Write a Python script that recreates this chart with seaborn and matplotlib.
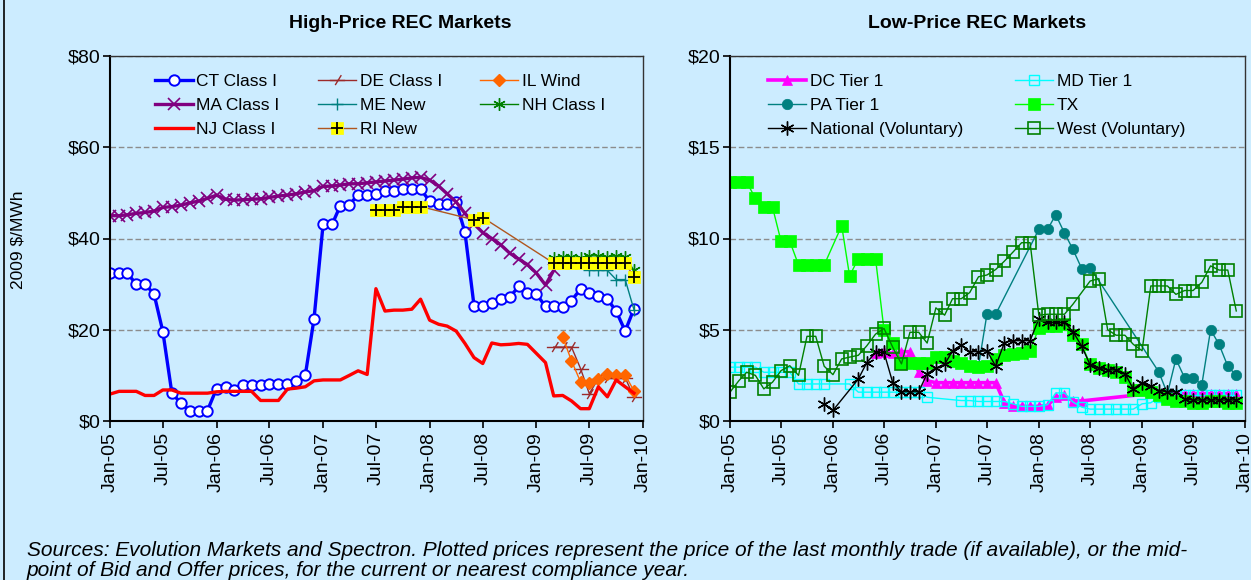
import numpy as np
import pandas as pd
import seaborn as sns
import matplotlib.pyplot as plt
import matplotlib.dates as mdates
from matplotlib.path import Path
from matplotlib.lines import Line2D

nan = np.nan
months = pd.date_range('2005-01-01', periods=60, freq='MS')

# ---- high-price markets, 2009 $/MWh, Jan-05 .. Dec-09
ct_class1 = [32.4, 32.4, 32.4, 30.0, 30.0, 27.8, 19.6, 6.1, 3.9, 2.3, 2.3, 2.3,
             7.1, 7.5, 6.9, 7.9, 7.9, 7.9, 8.2, 8.2, 8.2, 8.8, 10.0, 22.4,
             43.1, 43.1, 47.2, 47.4, 49.6, 49.6, 49.7, 50.5, 50.5, 50.8, 50.8, 50.8,
             48.2, 47.6, 47.6, 47.9, 41.4, 25.3, 25.3, 25.9, 26.7, 27.1, 29.5, 28.1,
             27.8, 25.1, 25.1, 24.9, 26.4, 28.9, 28.1, 27.5, 26.7, 24.1, 19.7, 24.6]
ma_class1 = [45.0, 45.0, 45.2, 45.5, 45.7, 46.0, 46.8, 47.0, 47.3, 47.8, 48.2, 48.8,
             49.5, 48.6, 48.4, 48.5, 48.6, 48.7, 49.0, 49.3, 49.5, 49.8, 50.2, 50.5,
             51.4, 51.5, 51.7, 52.0, 52.0, 52.2, 52.4, 52.6, 52.8, 53.0, 53.3, 53.4,
             52.8, 51.5, 49.8, 48.0, 45.5, 43.2, 41.3, 40.0, 38.6, 36.8, 35.5, 34.3,
             32.4, 29.8, 33.0] + [nan] * 9
nj_class1 = [5.9, 6.5, 6.5, 6.5, 5.6, 5.6, 6.8, 6.8, 6.1, 6.1, 6.1, 6.1,
             6.4, 6.5, 6.5, 6.5, 6.5, 4.5, 4.5, 4.5, 7.0, 7.2, 7.5, 8.8,
             9.0, 9.0, 9.0, 10.0, 11.0, 10.2, 29.0, 24.1, 24.3, 24.3, 24.5, 26.7,
             22.1, 21.2, 20.8, 19.7, 17.0, 13.9, 12.6, 17.1, 16.7, 16.8, 17.0, 16.8,
             14.8, 12.8, 5.5, 5.6, 4.4, 2.7, 2.7, 7.5, 5.3, 9.0, 7.5, 6.1]
de_class1 = [nan] * 50 + [16.2, 16.2, 16.2, 11.5, 6.0, 9.3, 9.5, 9.5, 9.5, 5.2]
il_wind = [nan] * 51 + [18.4, 13.2, 8.6, 8.3, 9.1, 10.2, 10.1, 10.1, 6.6]
me_new = [nan] * 54 + [33.0, 33.0, 33.0, 31.0, 31.0, 24.4]
nh_class1 = [nan] * 50 + [35.8, 36.0, 36.0, 35.8, 36.2, 36.2, 36.0, 36.2, 36.0, 33.0]
ri_new = ([nan] * 30 + [46.3, 46.3, 46.3, 47.0, 47.0, 47.0] + [nan] * 5
          + [44.1, 44.6] + [nan] * 7 + [34.6] * 9 + [31.6])

# ---- low-price markets
dc_tier1 = ([nan] * 17 + [3.7, 3.8, 3.7, 3.8, 3.8, 2.7, 2.2, 2.1, 2.1, 2.1, 2.1, 2.1,
                          2.1, 2.1, 2.1, 1.0, 0.8, 0.8, 0.8, 0.8, 0.85, 1.3, 1.4, 1.1, 1.1]
            + [nan] * 8 + [1.55] + [1.5] * 9)
md_tier1 = [2.95, 2.95, 2.95, 2.95, 2.67, 2.67, 2.67, 2.67, 2.03, 2.03, 2.03, 2.03,
            nan, nan, 2.03, 1.58, 1.58, 1.58, 1.58, 1.58, 1.58, 1.58, 1.58, 1.3,
            nan, nan, nan, 1.12, 1.12, 1.07, 1.07, 1.07, 1.07, 0.94, 0.8, 0.8,
            0.8, 0.9, 1.54, 1.54, 1.04, 0.76, 0.65, 0.65, 0.65, 0.65, 0.65, 0.65,
            0.94, 1.0, 1.3, 1.4, 1.4, 1.4, 1.4, 1.4, 1.4, 1.4, 1.4, 1.4]
pa_tier1 = ([nan] * 29 + [3.0, 5.85, 5.85, nan, nan, nan, nan, 10.5, 10.5, 11.3, 10.3,
                          9.4, 8.35, 8.4] + [nan] * 7
            + [2.7, 1.5, 3.4, 2.36, 2.36, 2.0, 5.0, 4.2, 3.0, 2.5])
tx = [13.1, 13.1, 13.1, 12.2, 11.7, 11.7, 9.85, 9.85, 8.55, 8.55, 8.55, 8.55,
      nan, 10.7, 7.95, 8.9, 8.9, 8.9, 5.0, 4.3, 3.2, 3.2, 3.2, 3.2,
      3.5, 3.5, 3.3, 3.2, 3.0, 2.95, 3.0, 3.4, 3.6, 3.65, 3.7, 3.85,
      5.1, 5.2, 5.2, 5.3, 4.7, 4.2, 3.1, 2.9, 2.8, 2.7, 2.4, 1.7,
      1.7, 1.6, 1.4, 1.2, 1.1, 1.1, 1.0, 1.0, 1.1, 1.1, 1.0, 1.0]
national = ([nan] * 11 + [0.94, 0.58, nan, nan, 2.3, 3.2, 3.76, 3.76, 2.1, 1.6, 1.6, 1.6,
                          2.6, 2.9, 3.1, 3.85, 4.16, 3.8, 3.8, 3.85, 3.0, 4.3, 4.4, 4.4,
                          4.4, 5.6, 5.4, 5.4, 5.4, 4.9, 4.1, 3.07, 2.9, 2.8, 2.8, 2.6,
                          1.76, 2.1, 1.9, 1.67, 1.6, 1.6, 1.2, 1.15, 1.15, 1.15, 1.15,
                          1.15, 1.15])
west = [1.58, 2.2, 2.67, 2.5, 1.76, 2.13, 2.76, 3.03, 2.5, 4.64, 4.64, 3.0,
        2.54, 3.4, 3.5, 3.6, 4.12, 4.76, 5.07, 4.04, 3.13, 4.86, 4.86, 4.27,
        6.2, 5.8, 6.7, 6.7, 7.04, 7.9, 8.0, 8.3, 8.76, 9.25, 9.77, 9.77,
        5.8, 5.85, 5.85, 5.85, 6.4, nan, 7.67, 7.8, 5.0, 4.7, 4.7, 4.2,
        3.85, 7.4, 7.4, 7.4, 6.94, 7.15, 7.15, 7.6, 8.5, 8.27, 8.27, 6.03]

BG = '#CCECFF'
plt.rcParams['font.family'] = ['Liberation Sans', 'DejaVu Sans']

# dash with a slash through it, like the excel marker for DE
de_marker = Path([(-1, 0), (1, 0), (-0.3, -0.6), (0.5, 0.7)],
                 [Path.MOVETO, Path.LINETO, Path.MOVETO, Path.LINETO])
star6 = (6, 2, 0)


def draw(ax, values, **kw):
    d = pd.DataFrame({'month': months, 'price': values}).dropna()
    sns.lineplot(data=d, x='month', y='price', ax=ax, errorbar=None, **kw)
    return ax.lines[-1]


fig = plt.figure(figsize=(12.51, 5.8), dpi=100, facecolor=BG)
ax1 = fig.add_axes([110 / 1251, 1 - 421 / 580, 533 / 1251, 365 / 580])
ax2 = fig.add_axes([730 / 1251, 1 - 421 / 580, 515 / 1251, 365 / 580])

# left panel, drawn in excel series order
h_ct = draw(ax1, ct_class1, color='#0000FF', linewidth=2.4, marker='o', markersize=7.5,
            markerfacecolor='white', markeredgecolor='#0000FF', markeredgewidth=1.4)
h_de = draw(ax1, de_class1, color='#9C2A2A', linewidth=1, marker=de_marker, markersize=11,
            markerfacecolor='none', markeredgecolor='#9C2A2A', markeredgewidth=1)
h_il = draw(ax1, il_wind, color='#FF6600', linewidth=1, marker='D', markersize=6,
            markerfacecolor='#FF6600', markeredgecolor='#FF6600', markeredgewidth=1)
h_ma = draw(ax1, ma_class1, color='#800080', linewidth=2.4, marker='x', markersize=8,
            markerfacecolor='#800080', markeredgecolor='#800080', markeredgewidth=1.2)
h_me = draw(ax1, me_new, color='#008080', linewidth=1, marker='+', markersize=9,
            markerfacecolor='#008080', markeredgecolor='#008080', markeredgewidth=1)
h_nh = draw(ax1, nh_class1, color='#008000', linewidth=1, marker=star6, markersize=9,
            markerfacecolor='#008000', markeredgecolor='#008000', markeredgewidth=1)
h_nj = draw(ax1, nj_class1, color='#FF0000', linewidth=2.4)
h_ri = draw(ax1, ri_new, color='#B0561E', linewidth=1, marker='s', markersize=8,
            markerfacecolor='#FFFF00', markeredgecolor='#FFFF00', markeredgewidth=0.5)
h_ri2 = draw(ax1, ri_new, color='black', linewidth=0, marker='+', markersize=8,
             markerfacecolor='black', markeredgecolor='black', markeredgewidth=1.3)

# right panel
h_dc = draw(ax2, dc_tier1, color='#FF00FF', linewidth=2.6, marker='^', markersize=6.5,
            markerfacecolor='#FF00FF', markeredgecolor='#FF00FF', markeredgewidth=0.5)
h_md = draw(ax2, md_tier1, color='#00FFFF', linewidth=1, marker='s', markersize=7.5,
            markerfacecolor='none', markeredgecolor='#00FFFF', markeredgewidth=1)
h_pa = draw(ax2, pa_tier1, color='#008080', linewidth=1, marker='o', markersize=7.5,
            markerfacecolor='#008080', markeredgecolor='#008080', markeredgewidth=0.5)
h_tx = draw(ax2, tx, color='#00FF00', linewidth=1, marker='s', markersize=8,
            markerfacecolor='#00FF00', markeredgecolor='#00FF00', markeredgewidth=0.5)
h_nat = draw(ax2, national, color='black', linewidth=1, marker=star6, markersize=10,
             markerfacecolor='black', markeredgecolor='black', markeredgewidth=1)
h_west = draw(ax2, west, color='#008000', linewidth=1, marker='s', markersize=9,
              markerfacecolor='none', markeredgecolor='#008000', markeredgewidth=1.2)

ticks = pd.date_range('2005-01-01', '2010-01-01', freq='6MS')
for ax, top, step in [(ax1, 80, 20), (ax2, 20, 5)]:
    ax.set_facecolor(BG)
    ax.set_xlim(pd.Timestamp('2005-01-01'), pd.Timestamp('2010-01-01'))
    ax.set_ylim(0, top)
    ax.set_xticks(ticks)
    ax.xaxis.set_major_formatter(mdates.DateFormatter('%b-%y'))
    ax.set_yticks(np.arange(0, top + 1, step))
    ax.set_yticklabels(['$%d' % v for v in np.arange(0, top + 1, step)])
    ax.tick_params(axis='x', labelrotation=90, labelsize=14, direction='out',
                   length=5, width=1.2, pad=3)
    ax.tick_params(axis='y', labelsize=14, direction='out', length=5, width=1.2, pad=2)
    ax.set_xlabel('')
    ax.set_ylabel('')
    ax.yaxis.grid(True, linestyle=(0, (4, 2)), color='#8C8C8C', linewidth=1)
    ax.xaxis.grid(False)
    ax.set_axisbelow(True)
    for s in ['left', 'bottom']:
        ax.spines[s].set_linewidth(1.5)
        ax.spines[s].set_color('black')
    for s in ['top', 'right']:
        ax.spines[s].set_linewidth(1)
        ax.spines[s].set_color('#333333')

leg_kw = dict(frameon=False, fontsize=12.5, handlelength=2.2, handletextpad=0.2,
              labelspacing=0.5, borderpad=0, borderaxespad=0, loc='upper left')
ax1.legend([h_ct, h_ma, h_nj, h_de, h_me, (h_ri, h_ri2), h_il, h_nh],
           ['CT Class I', 'MA Class I', 'NJ Class I', 'DE Class I', 'ME New', 'RI New',
            'IL Wind', 'NH Class I'],
           ncol=3, columnspacing=2.2, bbox_to_anchor=(0.084, 0.95), **leg_kw)
ax2.legend([h_dc, h_pa, h_nat, h_md, h_tx, h_west],
           ['DC Tier 1', 'PA Tier 1', 'National (Voluntary)', 'MD Tier 1', 'TX',
            'West (Voluntary)'],
           ncol=2, columnspacing=3.0, bbox_to_anchor=(0.074, 0.95), **leg_kw)

fig.text(400 / 1251, 1 - 24 / 580, 'High-Price REC Markets', ha='center', va='center',
         fontsize=14, fontweight='bold')
fig.text(977 / 1251, 1 - 24 / 580, 'Low-Price REC Markets', ha='center', va='center',
         fontsize=14, fontweight='bold')
fig.text(18 / 1251, 1 - 240 / 580, '2009 $/MWh', rotation=90, ha='center', va='center',
         fontsize=12.5)
fig.text(27 / 1251, 1 - 551 / 580,
         'Sources: Evolution Markets and Spectron. Plotted prices represent the price of the '
         'last monthly trade (if available), or the mid-',
         ha='left', va='center', fontsize=15, style='italic')
fig.text(27 / 1251, 1 - 570 / 580,
         'point of Bid and Offer prices, for the current or nearest compliance year.',
         ha='left', va='center', fontsize=15, style='italic')
fig.add_artist(Line2D([4 / 1251, 4 / 1251], [0, 1], color='black', linewidth=1.2))

plt.savefig('out.png', dpi=100, facecolor=BG)
